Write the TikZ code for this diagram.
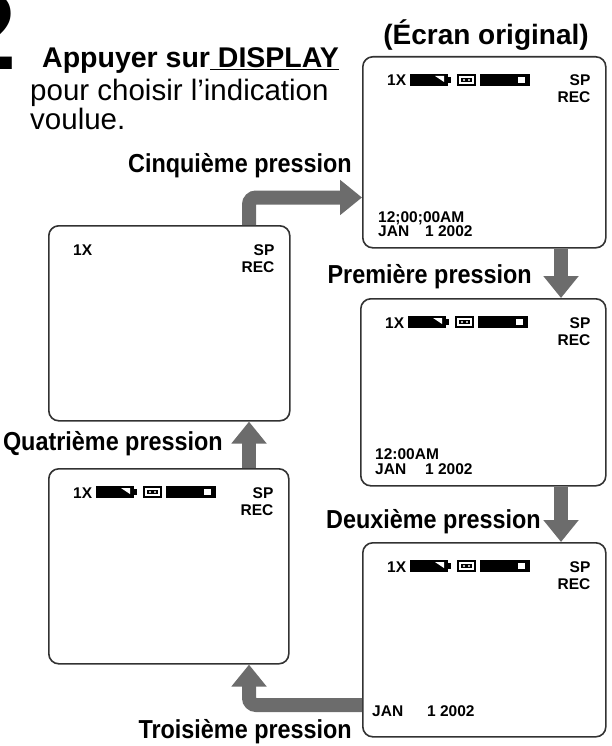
\documentclass[tikz,border=0pt]{standalone}
\usepackage{fontspec}
\setmainfont{Liberation Sans}
\newfontfamily\labfont[FakeStretch=0.9]{Liberation Sans}
\usetikzlibrary{arrows.meta,calc}
\definecolor{arr}{RGB}{108,108,108}
\definecolor{frame}{RGB}{50,50,50}
\tikzset{
  screen/.style={draw=frame, line width=1.6pt, rounded corners=10pt, inner sep=0pt, anchor=north west},
  bigarrow/.style={draw=arr, line width=14pt, -{Triangle[width=34pt,length=22pt]}, rounded corners=7pt},
  lbl/.style={font=\labfont\bfseries\fontsize{26}{28}\selectfont, inner sep=0pt, anchor=base east},
  osd/.style={font=\bfseries\fontsize{15.5}{17}\selectfont, inner sep=0pt},
  txt/.style={inner sep=0pt, anchor=base west}
}
\newcommand\scrtop[1]{%
  \node[osd, anchor=base west] (#1x) at ($(#1.north west)+(25,30)$) {1X};
  \node[osd, anchor=base east] (#1sp) at ($(#1.north east)+(-16,30)$) {SP};
  \node[osd, anchor=base east] (#1rec) at ($(#1.north east)+(-16,47)$) {REC};
}
\newcommand\scrbars[1]{%
  \fill ($(#1.north west)+(48,18)$) rectangle ($(#1.north west)+(86,30)$);
  \fill ($(#1.north west)+(86,21)$) rectangle ($(#1.north west)+(89,27)$);
  \fill[white] ($(#1.north west)+(73,20)$) -- ($(#1.north west)+(82,20)$) -- ($(#1.north west)+(82,26)$) -- cycle;
  \fill ($(#1.north west)+(95,18)$) rectangle ($(#1.north west)+(114,30)$);
  \fill[white] ($(#1.north west)+(97,20)$) rectangle ($(#1.north west)+(112,28)$);
  \fill ($(#1.north west)+(99,22)$) rectangle ($(#1.north west)+(110,26)$);
  \fill[white] ($(#1.north west)+(102,24)$) circle (1.1pt) ($(#1.north west)+(107,24)$) circle (1.1pt);
  \fill ($(#1.north west)+(118,18)$) rectangle ($(#1.north west)+(168,30)$);
  \fill[white] ($(#1.north west)+(156,21)$) rectangle ($(#1.north west)+(163,27)$);
}
\begin{document}
\begin{tikzpicture}[x=1pt, y=-1pt]
\useasboundingbox (0,0) rectangle (612,746);

% heading
\node[txt, anchor=base east, font=\bfseries\fontsize{110}{110}\selectfont] (two) at (17,70) {2};
\node[txt, font=\bfseries\fontsize{28.5}{30}\selectfont] (title) at (42,68) {Appuyer sur\underline{\ DISPLAY}};
\node[txt, font=\fontsize{29.5}{31}\selectfont] (line2) at (30,101) {pour choisir l’indication};
\node[txt, font=\fontsize{29.5}{31}\selectfont] (line3) at (30,130) {voulue.};
\node[inner sep=0pt, anchor=base, font=\bfseries\fontsize{28}{30}\selectfont] (orig) at (486,45) {(Écran original)};

% screens
\node[screen, minimum width=243pt, minimum height=191pt] (s1) at (362,56) {};
\node[screen, minimum width=245pt, minimum height=187pt] (s2) at (360,298) {};
\node[screen, minimum width=243pt, minimum height=194pt] (s3) at (362,542) {};
\node[screen, minimum width=241pt, minimum height=195pt] (s5) at (48,225) {};
\node[screen, minimum width=240pt, minimum height=195pt] (s4) at (48,468) {};

\scrtop{s1}\scrbars{s1}
\scrtop{s2}\scrbars{s2}
\scrtop{s3}\scrbars{s3}
\scrtop{s4}\scrbars{s4}
\scrtop{s5}

\node[osd, anchor=base west] (s1time) at ($(s1.south west)+(16,-26)$) {12;00;00AM};
\node[osd, anchor=base west] (s1date) at ($(s1.south west)+(16,-12)$) {JAN\hspace{16pt}1 2002};
\node[osd, anchor=base west] (s2time) at ($(s2.south west)+(15,-27)$) {12:00AM};
\node[osd, anchor=base west] (s2date) at ($(s2.south west)+(15,-12)$) {JAN\hspace{19pt}1 2002};
\node[osd, anchor=base west] (s3date) at ($(s3.south west)+(10,-21)$) {JAN\hspace{24pt}1 2002};

% arrows
\coordinate (xr) at (561,0);
\coordinate (xl) at (249,0);
\coordinate (c3) at (0,705);
\coordinate (c5) at (0,197.5);
\draw[bigarrow] (s1.south -| xr) -- (s2.north -| xr);
\draw[bigarrow] (s2.south -| xr) -- (s3.north -| xr);
\draw[bigarrow] (s3.west |- c3) -| (s4.south -| xl);
\draw[bigarrow] (s4.north -| xl) -- (s5.south -| xl);
\draw[bigarrow] (s5.north -| xl) |- (s1.west |- c5);

% labels
\node[lbl] (p5) at (352,172) {Cinquième pression};
\node[lbl] (p1) at (532,283) {Première pression};
\node[lbl] (p2) at (541,528) {Deuxième pression};
\node[lbl] (p4) at (223,450) {Quatrième pression};
\node[lbl] (p3) at (352,738) {Troisième pression};
\end{tikzpicture}
\end{document}
